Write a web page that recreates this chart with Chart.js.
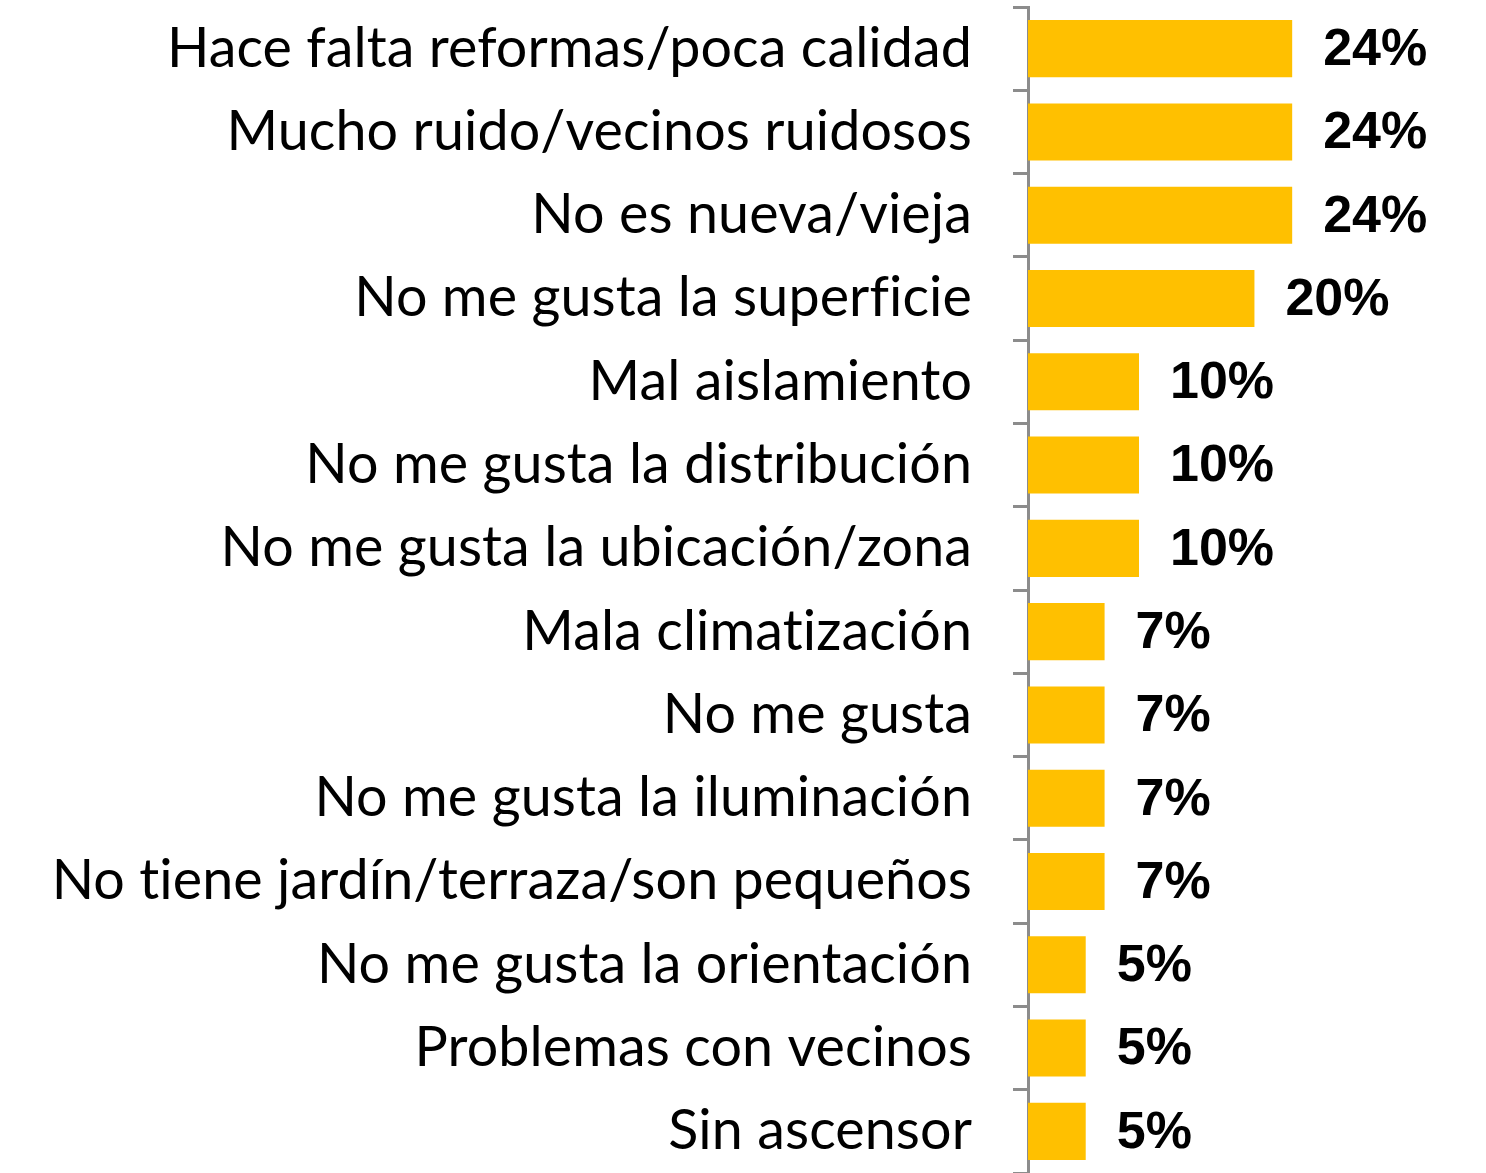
<!DOCTYPE html>
<html>
<head>
<meta charset="utf-8">
<script src="https://cdn.jsdelivr.net/npm/chart.js@4"></script>
<style>
  html, body { margin: 0; padding: 0; background: #fff; }
  #wrap { width: 1486px; height: 1173px; }
</style>
</head>
<body>
<div id="wrap"><canvas id="motivosChart" width="1486" height="1173"></canvas></div>
<script>
// categories, top to bottom
const categories = [
  'Hace falta reformas/poca calidad',
  'Mucho ruido/vecinos ruidosos',
  'No es nueva/vieja',
  'No me gusta la superficie',
  'Mal aislamiento',
  'No me gusta la distribución',
  'No me gusta la ubicación/zona',
  'Mala climatización',
  'No me gusta',
  'No me gusta la iluminación',
  'No tiene jardín/terraza/son pequeños',
  'No me gusta la orientación',
  'Problemas con vecinos',
  'Sin ascensor'
]
// percentages
const values = [23.8, 23.8, 23.8, 20.4, 10, 10, 10, 6.9, 6.9, 6.9, 6.9, 5.2, 5.2, 5.2]

// keep Lato from forming "ti" ligatures
const noLigatures = {
  id: 'noLigatures',
  beforeDraw(chart) {
    chart.ctx.letterSpacing = '0.1px'
    chart.ctx.textRendering = 'optimizeSpeed'
  }
}

// value labels drawn to the right of each bar
const valueLabels = {
  id: 'valueLabels',
  afterDatasetsDraw(chart) {
    const ctx = chart.ctx
    const meta = chart.getDatasetMeta(0)
    ctx.save()
    ctx.letterSpacing = '0px'
    ctx.font = 'bold 52px "Liberation Sans", Arial, sans-serif'
    ctx.fillStyle = '#000'
    ctx.textAlign = 'left'
    ctx.textBaseline = 'middle'
    meta.data.forEach((bar, i) => {
      ctx.fillText(Math.round(values[i]) + '%', bar.x + 31, bar.y + 2)
    })
    ctx.restore()
  }
}

const ctx = document.getElementById('motivosChart').getContext('2d')
new Chart(ctx, {
  type: 'bar',
  data: {
    labels: categories,
    datasets: [
      {
        data: values,
        backgroundColor: '#FFC000',
        borderWidth: 0,
        barPercentage: 0.685,
        categoryPercentage: 1
      }
    ]
  },
  options: {
    indexAxis: 'y',
    responsive: false,
    animation: false,
    layout: {
      padding: { top: 7, right: 14, bottom: 0, left: 0 }
    },
    plugins: {
      legend: { display: false },
      tooltip: { enabled: false }
    },
    scales: {
      x: {
        display: false,
        min: 0,
        max: 40
      },
      y: {
        afterFit(scale) {
          scale.width = 1028
          scale.paddingTop = 0
          scale.paddingBottom = 0
        },
        grid: {
          drawOnChartArea: false,
          drawTicks: true,
          tickLength: 15,
          color: '#8c8c8c',
          lineWidth: 3
        },
        border: {
          display: true,
          color: '#8c8c8c',
          width: 3
        },
        ticks: {
          color: '#000',
          padding: 41,
          autoSkip: false,
          font: { family: 'Lato', size: 55.6 }
        }
      }
    }
  },
  plugins: [noLigatures, valueLabels]
})
</script>
</body>
</html>
